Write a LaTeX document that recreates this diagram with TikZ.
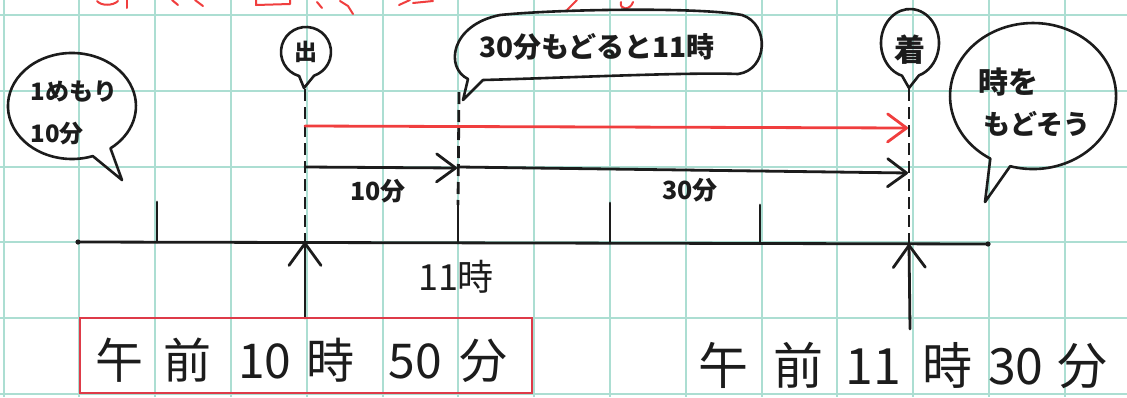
\documentclass[tikz,border=0pt]{standalone}
\usepackage{fontspec}
\setmainfont{Noto Sans CJK JP}
\usetikzlibrary{arrows.meta}
\definecolor{gridc}{RGB}{172,222,210}
\definecolor{ink}{RGB}{28,28,28}
\definecolor{redpen}{RGB}{240,62,62}
\definecolor{boxred}{RGB}{222,58,72}
\tikzset{
  gridline/.style={draw=gridc, line width=2pt},
  pen/.style={draw=ink, line width=2.8pt, line cap=round, line join=round},
  dashpen/.style={draw=ink, line width=2.8pt, dash pattern=on 12pt off 6pt},
  barb/.style={-{Straight Barb[length=19pt,width=28pt,round]}},
  upbarb/.style={-{Straight Barb[length=22pt,width=32pt,round]}},
  bubble/.style={draw=ink, line width=2.6pt, line join=round},
  redfrag/.style={draw=redpen, line width=2pt, line cap=round, line join=round},
  lbl/.style={inner sep=0pt, text=ink},
  fs/.style={font=\fontsize{#1pt}{#1pt}\selectfont},
  fsb/.style={font=\fontsize{#1pt}{#1pt}\selectfont\bfseries}
}
\begin{document}
\begin{tikzpicture}[x=1pt,y=-1pt]
\fill[white] (0,0) rectangle (1127,397);
\useasboundingbox (0,0) rectangle (1127,397);
\clip (0,0) rectangle (1127,397);
% grid paper
\foreach \k in {0,...,14} \draw[gridline] ({3.5+75.8*\k},0) -- ({3.5+75.8*\k},397);
\foreach \k in {0,...,5} \draw[gridline] (0,{15+75.8*\k}) -- (1127,{15+75.8*\k});
% red fragments of cut-off title
\draw[redfrag] (97,1) .. controls (101,6) and (113,6) .. (118,1);
\draw[redfrag] (127,0) -- (127,8);
\draw[redfrag] (172,0) -- (178,5);
\draw[redfrag] (195,0) -- (203,6);
\draw[redfrag] (256,0) -- (256,5) -- (290,4) -- (290,0);
\draw[redfrag] (317,2) -- (322,8);
\draw[redfrag] (340,1) -- (348,6) -- (353,14);
\draw[redfrag] (399,5) -- (410,0);
\draw[redfrag] (413,3) -- (433,1);
\draw[redfrag] (567,10) -- (577,0);
\draw[redfrag] (621,2) .. controls (619,10) and (630,11) .. (633,2);
% named points
\coordinate (L) at (78,242);
\coordinate (R) at (988,244);
\coordinate (t1) at (157,242);
\coordinate (dep) at (305,242);
\coordinate (eleven) at (458,243);
\coordinate (t4) at (610,243);
\coordinate (t5) at (760,243);
\coordinate (arr) at (909,244);
\coordinate (depTop) at (305,89);
\coordinate (elevenTop) at (459,92);
\coordinate (elevenMid) at (458,205);
\coordinate (arrTop) at (909,89);
% axis and ticks
\draw[pen] (L) -- (R);
\fill[ink] (L) circle (2.6pt) (R) circle (2.6pt);
\draw[pen] (t1) -- ++(0,-40);
\draw[pen] (eleven) -- (elevenMid);
\draw[pen] (t4) -- ++(0,-40);
\draw[pen] (t5) -- ++(0,-38);
% dashed verticals
\draw[dashpen] (depTop) -- (dep);
\draw[dashpen] (elevenTop) -- (elevenMid);
\draw[dashpen] (arrTop) -- (arr);
% arrows along the line
\coordinate (redS) at (305,126);
\coordinate (redE) at (908,128);
\draw[redpen, line width=2.8pt, line cap=round, barb] (redS) -- (redE);
\coordinate (aS) at (305,167);
\coordinate (aE) at (457,168);
\coordinate (bS) at (459,167);
\coordinate (bE) at (908,173);
\draw[pen, barb] (aS) -- (aE);
\draw[pen, barb] (bS) -- (bE);
% up arrows from the boxes
\coordinate (depBot) at (305,318);
\coordinate (arrBot) at (910,329);
\draw[pen, upbarb] (depBot) -- (dep);
\draw[pen, upbarb] (arrBot) -- (arr);
% red box
\draw[boxred, line width=2.2pt] (80,318) rectangle (532,393);
% bubbles
\draw[bubble] (92.8,156.1) arc[start angle=71, end angle=413, x radius=64, y radius=53] -- (122,180) -- cycle;
\draw[bubble] (299.1,76) arc[start angle=106, end angle=431, x radius=25, y radius=25] -- (304,88) -- cycle;
\draw[bubble] (902,75.7) arc[start angle=106, end angle=432, x radius=29, y radius=34] -- (909,88) -- cycle;
\draw[bubble] (990.3,158.6) arc[start angle=121, end angle=466, x radius=83, y radius=73] -- (985,202) -- cycle;
\draw[bubble] (483,80) .. controls (560,78) and (690,72) .. (738,74)
  .. controls (768,70) and (770,24) .. (742,15)
  .. controls (700,7) and (560,9) .. (500,15)
  .. controls (450,25) and (445,68) .. (468,79) -- (463,100) -- cycle;
% texts
\node[lbl, align=left, font=\fontsize{24pt}{42pt}\selectfont\bfseries] (scale) at (74,113) {1めもり\\10分};
\node[lbl, fsb=23] (deplbl) at (306,52) {出};
\node[lbl, fsb=31] (arrlbl) at (910,50) {着};
\node[lbl, fsb=28] (back) at (597,47) {30分もどると11時};
\node[lbl, fsb=30] (hint1) at (1008,82) {時を};
\node[lbl, fsb=27] (hint2) at (1037,124) {もどそう};
\node[lbl, fsb=25] (ten) at (378,191) {10分};
\node[lbl, fsb=25] (thirty) at (690,190) {30分};
\node[lbl, fs=36] (elevenlbl) at (456,277) {11時};
\node[lbl, fs=48] (start) at (301.5,360) {午\hspace{20pt}前\hspace{27pt}10\hspace{15pt}時\hspace{34pt}50\hspace{18pt}分};
\node[lbl, fs=50] (end) at (903,365) {午\hspace{25pt}前\hspace{22pt}11\hspace{21pt}時\hspace{16pt}30\hspace{14pt}分};
\end{tikzpicture}
\end{document}
